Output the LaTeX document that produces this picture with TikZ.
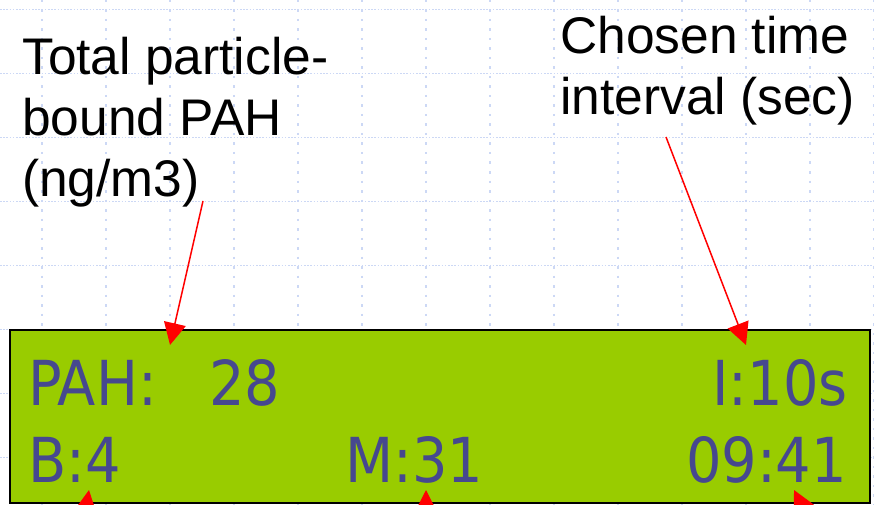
\documentclass[tikz,border=0pt]{standalone}
\usepackage{fontspec}
\setmainfont{Liberation Sans}
\newfontfamily\lcdfont{DejaVu Sans Condensed}
\usetikzlibrary{arrows.meta}
\definecolor{gridblue}{HTML}{CCD8F5}
\definecolor{lcdgreen}{HTML}{99CC00}
\definecolor{lcdtext}{HTML}{46488F}
\definecolor{arrowred}{HTML}{FF0000}
\tikzset{
  gridh/.style={gridblue, line width=1.2pt, dash pattern=on 1.6pt off 1.6pt},
  gridv/.style={gridblue, line width=1.2pt, dash pattern=on 2.5pt off 7pt},
  lcdbox/.style={draw=black, line width=1.8pt, fill=lcdgreen},
  lcdtxt/.style={inner sep=0pt, text=lcdtext, font=\lcdfont\fontsize{62}{62}\selectfont},
  label/.style={inner sep=0pt, anchor=north west, align=left, font=\fontsize{51.5}{61}\selectfont},
  pointer/.style={arrowred, line width=1.5pt, -{Triangle[length=22pt,width=22pt]}}
}
\begin{document}
\begin{tikzpicture}[x=1pt,y=-1pt]
\useasboundingbox (0,0) rectangle (874,505);
\clip (0,0) rectangle (874,505);
% grid
\foreach \k in {0,...,7} \draw[gridh] (0,9.5+64*\k) -- (874,9.5+64*\k);
\foreach \k in {0,...,13} \draw[gridv] (42+64*\k,0) -- (42+64*\k,505);
% LCD display
\draw[lcdbox] (10,330) rectangle (870,503);
\node[lcdtxt, anchor=base west] (pah) at (28,405) {PAH:};
\node[lcdtxt, anchor=base west] (val) at (209,405) {28};
\node[lcdtxt, anchor=base east] (intv) at (848,405) {I:10s};
\node[lcdtxt, anchor=base west] (bval) at (28,482) {B:4};
\node[lcdtxt, anchor=base west] (mval) at (345,482) {M:31};
\node[lcdtxt, anchor=base east] (clock) at (847,482) {09:41};
% labels
\node[label] (lblpah) at (22,36.5) {Total particle-\\bound PAH\\(ng/m3)};
\node[label] (lbltime) at (560,16) {Chosen time\\interval (sec)};
% arrow anchors
\coordinate (t1) at (203,201);
\coordinate (h1) at (170,345);
\coordinate (t2) at (666,137);
\coordinate (h2) at (746,345);
\coordinate (t3) at (73,590);
\coordinate (h3) at (89,490);
\coordinate (t4) at (426,590);
\coordinate (h4) at (426,490);
\coordinate (t5) at (844,590);
\coordinate (h5) at (794,490);
\draw[pointer] (t1) -- (h1);
\draw[pointer] (t2) -- (h2);
\draw[pointer] (t3) -- (h3);
\draw[pointer] (t4) -- (h4);
\draw[pointer] (t5) -- (h5);
\end{tikzpicture}
\end{document}
